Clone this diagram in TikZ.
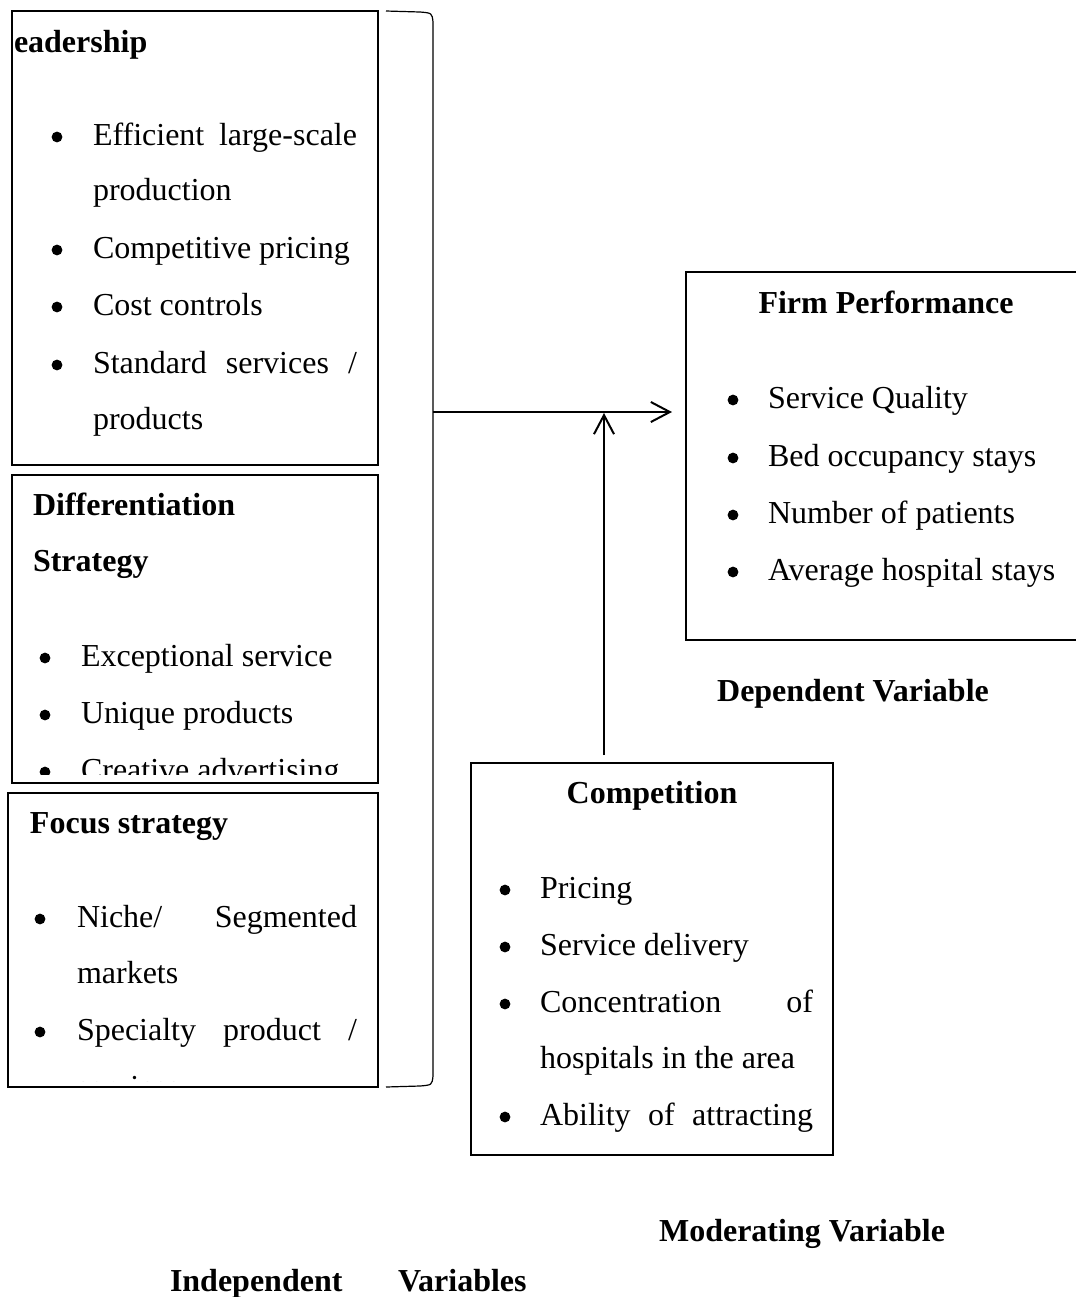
\documentclass[tikz,border=0pt]{standalone}
\usepackage{fontspec}
\setmainfont{Liberation Serif}
\usetikzlibrary{arrows.meta,fit}
\newcommand{\jline}[2]{\makebox[#1][s]{#2}}

\begin{document}
\begin{tikzpicture}[x=0.5pt, y=-0.5pt, font=\fontsize{16}{19}\selectfont,
     every node/.style={inner sep=0pt, outer sep=0pt},
     frame/.style={draw, line width=1.3pt},
     item/.style={anchor=base west},
     dot/.style={circle, fill, minimum size=5.4pt},
     head/.style={anchor=base west, font=\fontsize{16}{19}\selectfont\bfseries},
     title/.style={anchor=base, font=\fontsize{16}{19}\selectfont\bfseries},
     link/.style={line width=1pt, -{Straight Barb[length=9.5pt, width=10pt, line width=1pt]}}]

   \useasboundingbox (0,0) rectangle (1076,1297);

   % boxes
   \node[frame, fit={(12,11) (378,465)}] (cost) {};
   \node[frame, fit={(12,475) (378,783)}] (diff) {};
   \node[frame, fit={(8,793) (378,1087)}] (focus) {};
   \node[frame, fit={(686,272) (1100,640)}] (perf) {};
   \node[frame, fit={(471,763) (833,1155)}] (comp) {};

   \begin{scope}
     \clip (cost.south west) rectangle (cost.north east);
     \node[head] (costh) at (14,52) {eadership};
     \foreach \y/\t in {145/{\jline{132pt}{Efficient large-scale}}, 200/production, 258/Competitive pricing, 315/Cost controls, 373/{\jline{132pt}{Standard services /}}, 429/products}
       \node[item] at (93,\y) {\t};
     \foreach \y in {145,258,315,373}
       \node[dot] at (57,\y-8) {};
   \end{scope}

   \begin{scope}
     \clip (diff.north west) rectangle (378,774);
     \node[head] (diffh) at (33,515) {Differentiation};
     \node[head] (diffs) at (33,571) {Strategy};
     \foreach \y/\t in {666/Exceptional service, 723/Unique products, 780/Creative advertising}{
       \node[item] at (81,\y) {\t};
       \node[dot] at (45,\y-8) {};}
   \end{scope}

   \begin{scope}
     \clip (focus.north west) rectangle (378,1081);
     \node[head] (focush) at (30,833) {Focus strategy};
     \foreach \y/\t in {927/{\jline{140pt}{Niche/ Segmented}}, 983/markets, 1040/{\jline{140pt}{Specialty product /}}, 1097/services}
       \node[item] at (77,\y) {\t};
     \foreach \y in {927,1040}
       \node[dot] at (40,\y-8) {};
   \end{scope}

   \node[title] (perfh) at (886,313) {Firm Performance};
   \foreach \y/\t in {408/Service Quality, 466/Bed occupancy stays, 523/Number of patients, 580/Average hospital stays}{
     \node[item] at (768,\y) {\t};
     \node[dot] at (733,\y-8) {};}

   \node[title] (comph) at (652,803) {Competition};
   \foreach \y/\t in {898/Pricing, 955/Service delivery, 1012/{\jline{136.5pt}{Concentration of}}, 1068/hospitals in the area, 1125/{\jline{136.5pt}{Ability of attracting}}}
     \node[item] at (540,\y) {\t};
   \foreach \y in {898,955,1012,1125}
     \node[dot] at (505,\y-8) {};

   % labels
   \node[title] (dep) at (853,701) {Dependent Variable};
   \node[title] (mod) at (802,1241) {Moderating Variable};
   \node[head] (indep) at (170,1291) {Independent};
   \node[head] (vars) at (398,1291) {Variables};

   % bracket and arrows
   \draw[line width=0.6pt] (386,11) -- (420,12) .. controls (432,13) .. (433,22) -- (433,1076) .. controls (432,1085) .. (420,1086) -- (386,1087);
   \coordinate (brace) at (433,412);
   \coordinate (join) at (604,413);
   \coordinate (stem) at (604,755);
   \draw[link, shorten >=7pt] (brace) -- (perf.west |- brace);
   \draw[link] (stem) -- (join);
\end{tikzpicture}
\end{document}
